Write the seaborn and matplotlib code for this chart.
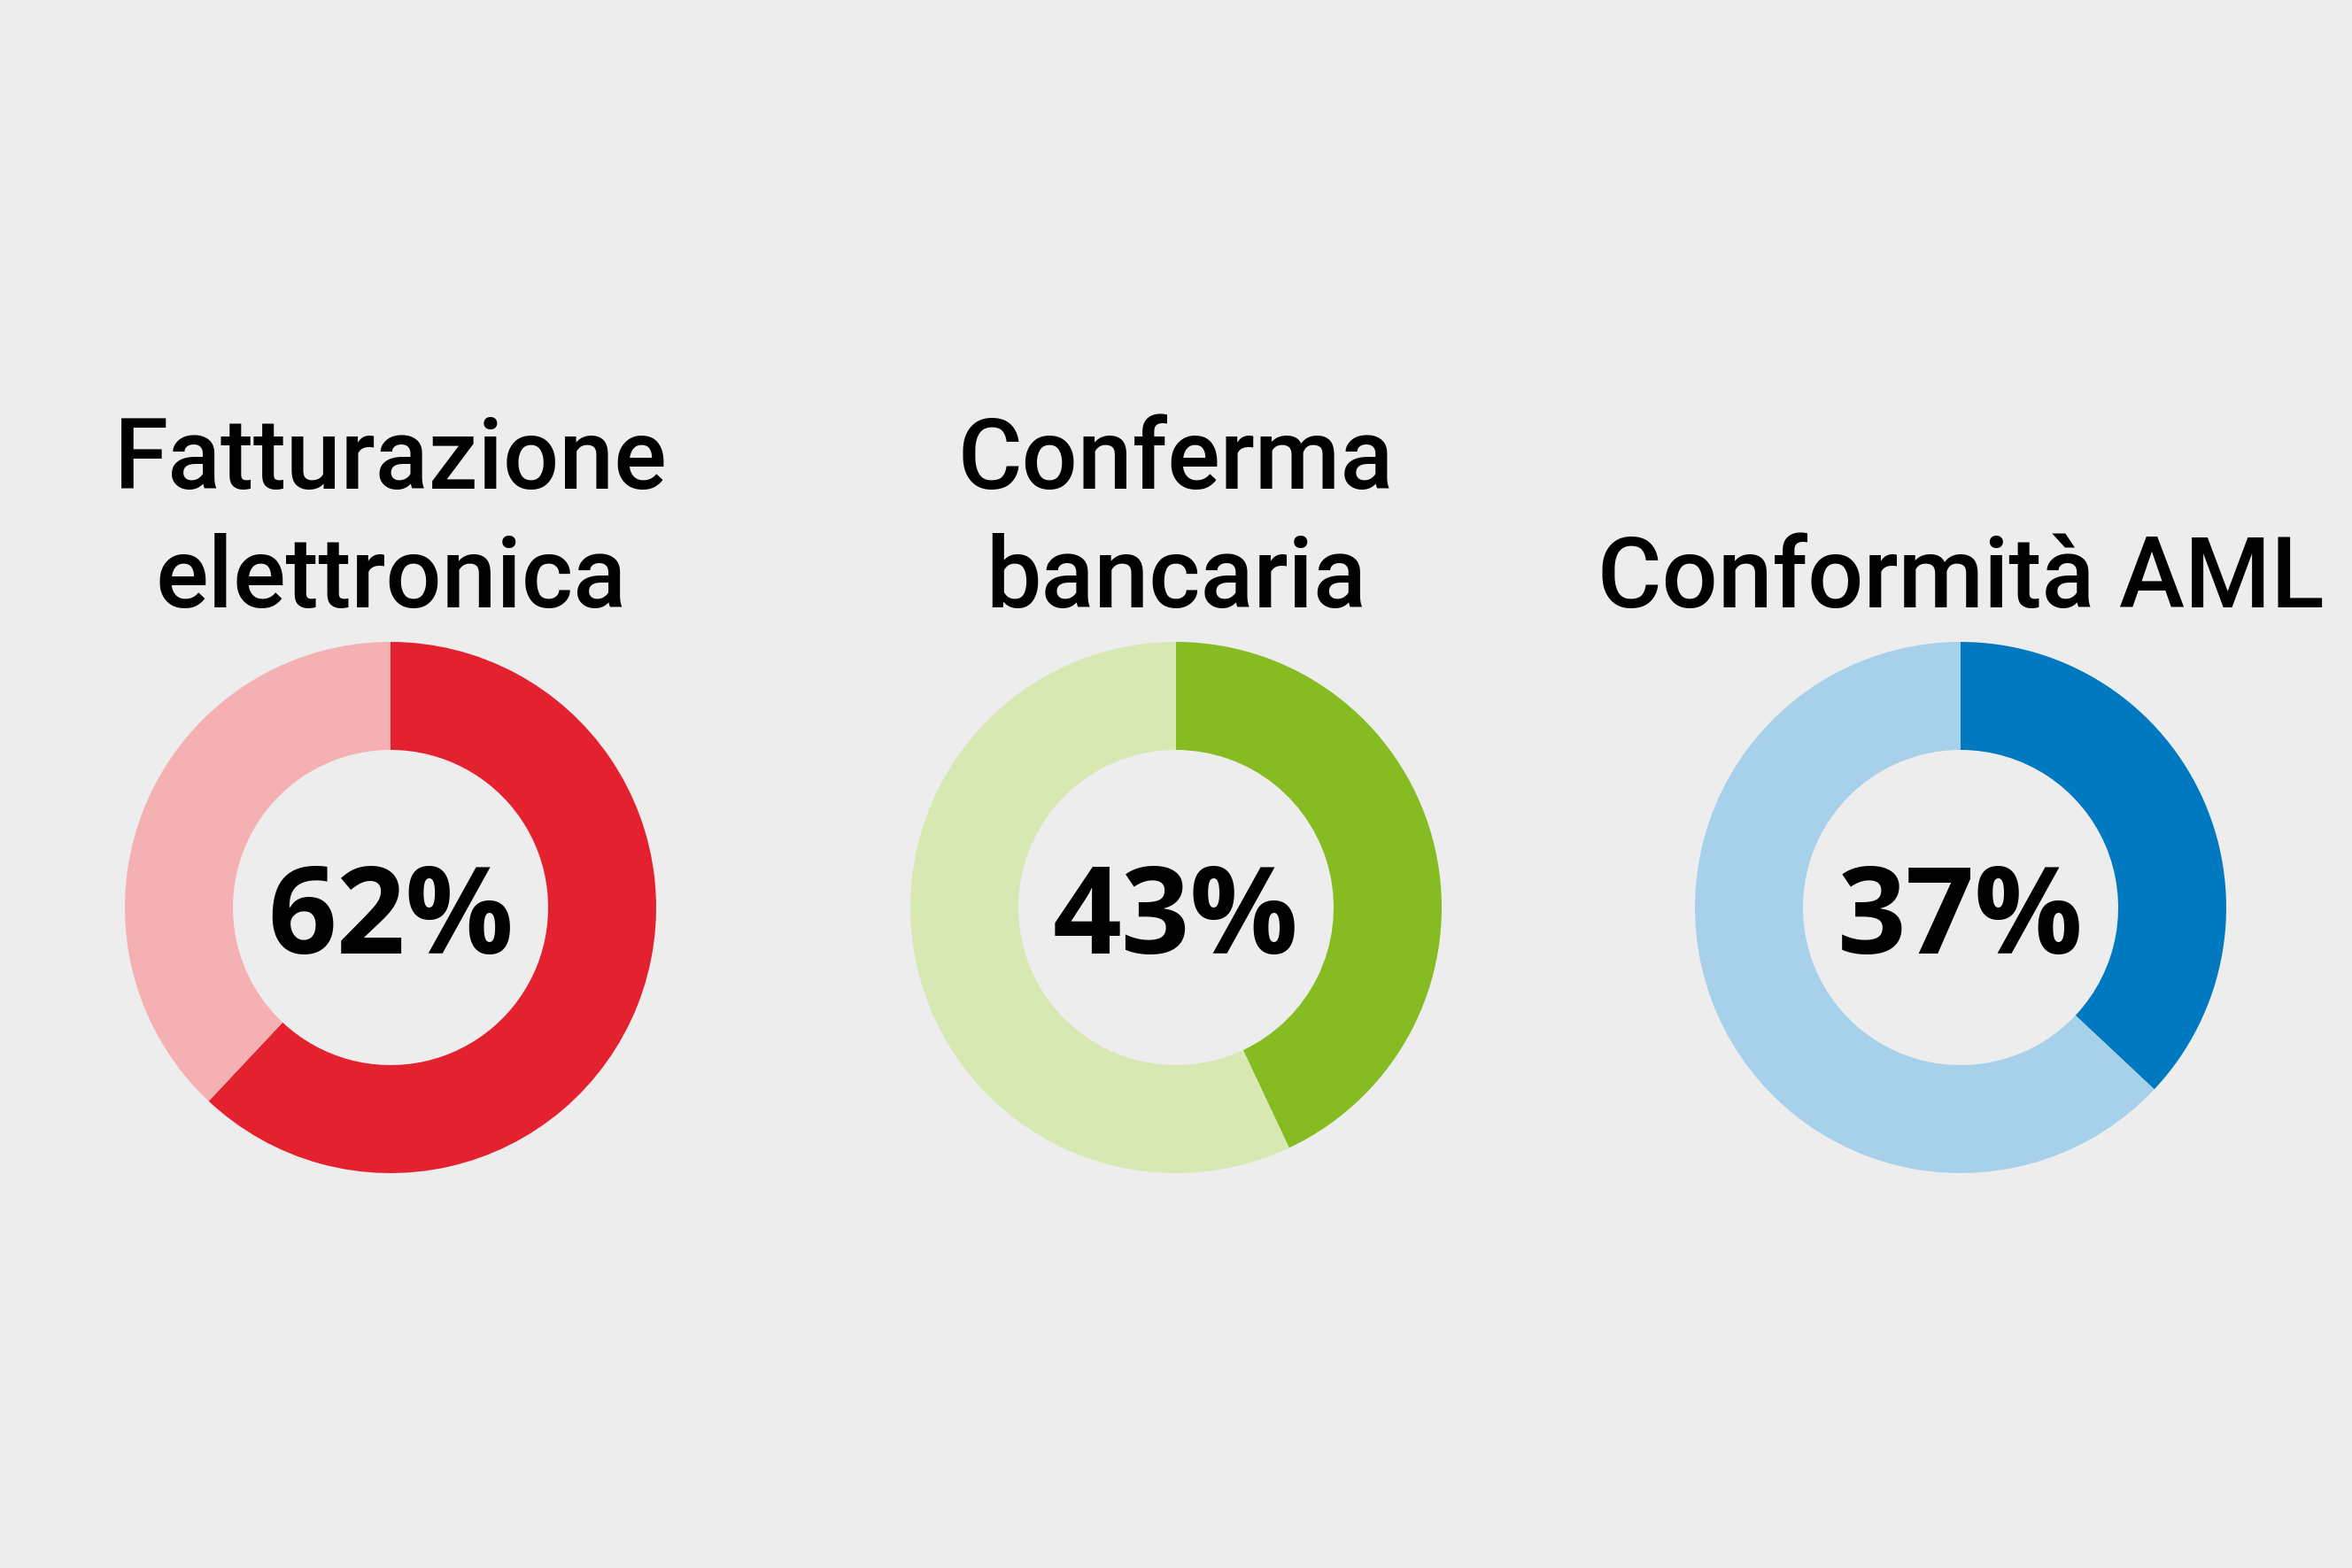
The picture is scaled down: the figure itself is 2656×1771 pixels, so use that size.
import matplotlib
matplotlib.use("Agg")
import matplotlib.pyplot as plt
import seaborn as sns

categories = ["Fatturazione\nelettronica", "Conferma\nbancaria", "Conformità AML"]
values = [62, 43, 37]
labels = ["62%", "43%", "37%"]
dark_colors = ["#E4212F", "#86BC22", "#0079C1"]
light_colors = ["#F5B0B4", "#D7E8B2", "#A7D1EA"]

BG = "#EDEDED"
sns.set_theme(style="white")
plt.rcParams["font.family"] = ["Roboto", "DejaVu Sans"]

W, H = 2656, 1771
fig = plt.figure(figsize=(W / 100, H / 100), dpi=100, facecolor=BG)
ax = fig.add_axes([0, 0, 1, 1])
ax.set_facecolor(BG)

centers_x = [441, 1328, 2214]
cy = H - 1025
R = 300
ring = 122
title_last_baseline = H - 686
line_gap = 134

for cx, cat, v, lab, dc, lc in zip(centers_x, categories, values, labels, dark_colors, light_colors):
    ax.pie([v, 100 - v], colors=[dc, lc], startangle=90, counterclock=False,
           radius=R, center=(cx, cy), wedgeprops=dict(width=ring, linewidth=0))
    ax.text(cx, cy, lab, ha="center", va="center_baseline", fontsize=98,
            fontweight="bold", family=["Open Sans", "DejaVu Sans"], color="black")
    lines = cat.split("\n")
    n = len(lines)
    for i, line in enumerate(lines):
        y = title_last_baseline + (n - 1 - i) * line_gap
        ax.text(cx, y, line, ha="center", va="baseline", fontsize=80,
                fontweight="medium", family=["Roboto", "DejaVu Sans"], color="black")

ax.set_xlim(0, W)
ax.set_ylim(0, H)
ax.set_aspect("equal")
ax.axis("off")
fig.savefig("out.png", dpi=100, facecolor=BG)
